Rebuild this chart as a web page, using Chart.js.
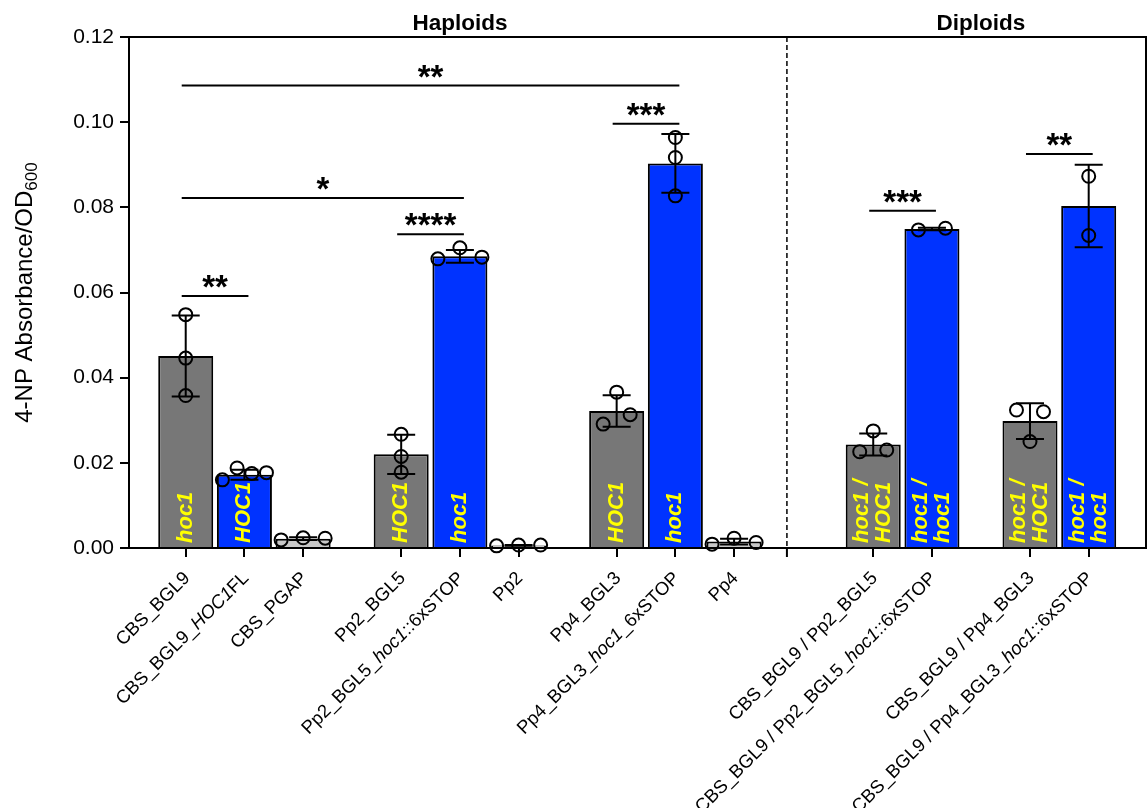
<!DOCTYPE html>
<html>
<head>
<meta charset="utf-8">
<script src="https://cdn.jsdelivr.net/npm/chart.js@4.4.0/dist/chart.umd.min.js"></script>
<style>
  html, body { margin: 0; padding: 0; background: #fff; }
</style>
</head>
<body>
<canvas id="myChart" width="1148" height="808"></canvas>
<script>
// --- data ---
const categories = [
  'CBS_BGL9', 'CBS_BGL9_<i>HOC1</i>FL', 'CBS_PGAP',
  'Pp2_BGL5', 'Pp2_BGL5_<i>hoc1</i>::6xSTOP', 'Pp2',
  'Pp4_BGL3', 'Pp4_BGL3_<i>hoc1</i>_6xSTOP', 'Pp4',
  'CBS_BGL9 / Pp2_BGL5', 'CBS_BGL9 / Pp2_BGL5_<i>hoc1</i>::6xSTOP',
  'CBS_BGL9 / Pp4_BGL3', 'CBS_BGL9 / Pp4_BGL3_<i>hoc1</i>::6xSTOP'
];
const groupIds = [0, 0, 0, 1, 1, 1, 2, 2, 2, 3, 3, 4, 4];
const sectionIds = [0, 0, 0, 0, 0, 0, 0, 0, 0, 1, 1, 1, 1];
const sectionNames = ['Haploids', 'Diploids'];
const barKinds = ['gray', 'blue', 'light', 'gray', 'blue', 'light', 'gray', 'blue', 'light', 'gray', 'blue', 'gray', 'blue'];
const barTexts = ['hoc1', 'HOC1', '', 'HOC1', 'hoc1', '', 'HOC1', 'hoc1', '', 'hoc1 /\nHOC1', 'hoc1 /\nhoc1', 'hoc1 /\nHOC1', 'hoc1 /\nhoc1'];

const means = [0.0451, 0.0172, 0.0022, 0.0220, 0.0685, 0.0006, 0.0322, 0.0903, 0.0015, 0.0243, 0.0749, 0.0298, 0.0803];
const sds   = [0.0095, 0.0012, 0.0003, 0.0046, 0.0015, 0.0001, 0.0037, 0.0069, 0.0007, 0.0026, 0.0003, 0.0042, 0.0097];
const replicates = [
  [0.0548, 0.0446, 0.0358],
  [0.0160, 0.0188, 0.0175, 0.0177],
  [0.0019, 0.0024, 0.0023],
  [0.0267, 0.0215, 0.0178],
  [0.0679, 0.0705, 0.0683],
  [0.0005, 0.0007, 0.0007],
  [0.0366, 0.0291, 0.0313],
  [0.0964, 0.0917, 0.0827],
  [0.0009, 0.0023, 0.0013],
  [0.0275, 0.0226, 0.0230],
  [0.0747, 0.0751],
  [0.0324, 0.0320, 0.0250],
  [0.0873, 0.0734]
];

// significance brackets
const sigFrom  = [0, 3, 0, 6, 0, 9, 11];
const sigTo    = [1, 4, 4, 7, 7, 10, 12];
const sigLevel = [0.0592, 0.0737, 0.0822, 0.0996, 0.1086, 0.0792, 0.0925];
const sigText  = ['**', '****', '*', '***', '**', '***', '**'];

const yTickStep = 0.02;
const yMax = 0.12;

// --- layout ---
const colors = { gray: '#777777', blue: '#0033ff', light: '#c8c8c8' };
const FONT = '"Liberation Sans", Arial, sans-serif';
const groupGap = 0.67, sectionGap = 0.7;
const xPos = categories.map((c, i) => i + groupIds[i] * groupGap + sectionIds[i] * sectionGap);
const sepPos = xPos[8] + 0.9;
const clusterGap = 0.0033;

// spread close points sideways like Prism does
function spread(vals, center) {
  const order = vals.map((v, i) => i).sort((a, b) => vals[a] - vals[b]);
  const clusters = [];
  let cur = [order[0]];
  for (let k = 1; k < order.length; k++) {
    if (vals[order[k]] - vals[order[k - 1]] < clusterGap) cur.push(order[k]);
    else { clusters.push(cur); cur = [order[k]]; }
  }
  clusters.push(cur);
  const xs = [];
  clusters.forEach(cl => {
    cl.sort((a, b) => a - b);
    const n = cl.length;
    const step = n > 1 ? Math.min(0.46, 0.75 / (n - 1)) : 0;
    cl.forEach((idx, j) => { xs[idx] = center + (j - (n - 1) / 2) * step; });
  });
  return xs;
}

const pointData = [];
replicates.forEach((vals, i) => {
  const xs = spread(vals, xPos[i]);
  vals.forEach((v, j) => pointData.push({ x: xs[j], y: v }));
});

function drawRich(ctx, text, size, x, y) {
  const parts = text.split(/(<i>.*?<\/i>)/).filter(p => p.length);
  const segs = parts.map(p => {
    const it = p.startsWith('<i>');
    return { t: it ? p.slice(3, -4) : p, font: (it ? 'italic ' : '') + size + 'px ' + FONT };
  });
  let total = 0;
  segs.forEach(s => { ctx.font = s.font; s.w = ctx.measureText(s.t).width; total += s.w; });
  let cx = x - total;
  segs.forEach(s => { ctx.font = s.font; ctx.fillText(s.t, cx, y); cx += s.w; });
}

const overlay = {
  id: 'overlay',
  afterDatasetDraw(chart, args) {
    if (args.index !== 1) return;
    const ctx = chart.ctx, xs = chart.scales.x, ys = chart.scales.y;
    const base = ys.getPixelForValue(0);
    ctx.save();
    ctx.fillStyle = '#ffff00';
    ctx.font = 'italic bold 22px ' + FONT;
    ctx.textAlign = 'left';
    ctx.textBaseline = 'middle';
    barTexts.forEach((t, i) => {
      if (!t) return;
      const lines = t.split('\n');
      ctx.save();
      ctx.translate(xs.getPixelForValue(xPos[i]), base - 5);
      ctx.rotate(-Math.PI / 2);
      lines.forEach((ln, j) => ctx.fillText(ln, 0, (j - (lines.length - 1) / 2) * 22));
      ctx.restore();
    });
    ctx.restore();
  },
  afterDatasetsDraw(chart) {
    const ctx = chart.ctx, xs = chart.scales.x, ys = chart.scales.y;
    ctx.save();
    ctx.strokeStyle = '#000';
    ctx.lineWidth = 2;
    // error bars (mean +/- SD)
    means.forEach((m, i) => {
      const x = xs.getPixelForValue(xPos[i]);
      const top = ys.getPixelForValue(m + sds[i]);
      const bot = ys.getPixelForValue(Math.max(0, m - sds[i]));
      ctx.beginPath();
      ctx.moveTo(x, top); ctx.lineTo(x, bot);
      ctx.moveTo(x - 14, top); ctx.lineTo(x + 14, top);
      ctx.moveTo(x - 14, bot); ctx.lineTo(x + 14, bot);
      ctx.stroke();
    });
    // significance brackets
    ctx.fillStyle = '#000';
    ctx.textAlign = 'center';
    ctx.textBaseline = 'alphabetic';
    ctx.font = 'bold 33px ' + FONT;
    sigFrom.forEach((f, k) => {
      const x1 = xs.getPixelForValue(xPos[f]) - 4;
      const x2 = xs.getPixelForValue(xPos[sigTo[k]]) + 4;
      const y = ys.getPixelForValue(sigLevel[k]);
      ctx.beginPath();
      ctx.moveTo(x1, y); ctx.lineTo(x2, y);
      ctx.stroke();
      ctx.fillText(sigText[k], (x1 + x2) / 2, y + 2);
    });
    ctx.restore();
  },
  afterDraw(chart) {
    const ctx = chart.ctx, xs = chart.scales.x, ys = chart.scales.y;
    const area = chart.chartArea;
    ctx.save();
    ctx.strokeStyle = '#000';
    ctx.lineWidth = 2;
    // frame top and right
    ctx.beginPath();
    ctx.moveTo(area.left, area.top); ctx.lineTo(area.right, area.top); ctx.lineTo(area.right, area.bottom);
    ctx.stroke();
    // section separator
    const sx = xs.getPixelForValue(sepPos);
    ctx.lineWidth = 1.5;
    ctx.setLineDash([5, 3]);
    ctx.beginPath();
    ctx.moveTo(sx, area.top); ctx.lineTo(sx, area.bottom);
    ctx.stroke();
    ctx.setLineDash([]);
    ctx.lineWidth = 2;
    ctx.beginPath();
    ctx.moveTo(sx, area.bottom); ctx.lineTo(sx, area.bottom + 9);
    ctx.stroke();

    // section titles
    ctx.fillStyle = '#000';
    ctx.font = 'bold 22.5px ' + FONT;
    ctx.textAlign = 'center';
    ctx.textBaseline = 'alphabetic';
    sectionNames.forEach((name, s) => {
      const idx = sectionIds.map((v, i) => v === s ? i : -1).filter(i => i >= 0);
      const a = xs.getPixelForValue(xPos[idx[0]]);
      const b = xs.getPixelForValue(xPos[idx[idx.length - 1]]);
      ctx.fillText(name, (a + b) / 2, 30);
    });

    // rotated category labels
    ctx.textAlign = 'left';
    categories.forEach((c, i) => {
      ctx.save();
      ctx.translate(xs.getPixelForValue(xPos[i]) + 5, area.bottom + 31);
      ctx.rotate(-Math.PI / 4);
      drawRich(ctx, c, 18.5, 0, 0);
      ctx.restore();
    });

    // y-axis title with subscript
    const main = '4-NP Absorbance/OD', sub = '600';
    ctx.font = '24px ' + FONT;
    const w1 = ctx.measureText(main).width;
    ctx.font = '17px ' + FONT;
    const w2 = ctx.measureText(sub).width;
    ctx.save();
    ctx.translate(25, (area.top + area.bottom) / 2);
    ctx.rotate(-Math.PI / 2);
    ctx.textBaseline = 'middle';
    ctx.font = '24px ' + FONT;
    ctx.fillText(main, -(w1 + w2) / 2, 0);
    ctx.font = '17px ' + FONT;
    ctx.fillText(sub, -(w1 + w2) / 2 + w1, 7);
    ctx.restore();
    ctx.restore();
  }
};

const ctx = document.getElementById('myChart');
new Chart(ctx, {
  type: 'bar',
  data: {
    datasets: [
      {
        type: 'line',
        data: pointData,
        showLine: false,
        pointRadius: 6.5,
        pointBorderWidth: 2,
        pointBorderColor: '#000',
        pointBackgroundColor: 'rgba(0,0,0,0)',
        clip: false,
        order: 0
      },
      {
        type: 'bar',
        data: xPos.map((x, i) => ({ x: x, y: means[i] })),
        backgroundColor: barKinds.map(k => colors[k]),
        borderColor: '#000',
        borderWidth: 2,
        borderSkipped: 'start',
        barPercentage: 0.937,
        categoryPercentage: 1,
        order: 1
      }
    ]
  },
  options: {
    responsive: false,
    animation: false,
    events: [],
    layout: { autoPadding: false, padding: { top: 37, right: 2, left: 0, bottom: 0 } },
    plugins: { legend: { display: false }, tooltip: { enabled: false } },
    scales: {
      x: {
        type: 'linear',
        min: -0.966,
        max: 16.356,
        offset: false,
        afterBuildTicks: s => { s.ticks = xPos.map(v => ({ value: v })); },
        afterFit: s => { s.height = 260; },
        ticks: { display: false },
        grid: { display: true, drawOnChartArea: false, drawTicks: true, tickLength: 9, color: '#000', lineWidth: 2, offset: false },
        border: { display: true, color: '#000', width: 2 }
      },
      y: {
        min: 0,
        max: yMax,
        afterFit: s => { s.width = 129; },
        ticks: {
          stepSize: yTickStep,
          color: '#000',
          padding: 6,
          font: { family: FONT, size: 21 },
          callback: v => v.toFixed(2)
        },
        grid: { display: true, drawOnChartArea: false, drawTicks: true, tickLength: 9, color: '#000', lineWidth: 2 },
        border: { display: true, color: '#000', width: 2 }
      }
    }
  },
  plugins: [overlay]
});
</script>
</body>
</html>
